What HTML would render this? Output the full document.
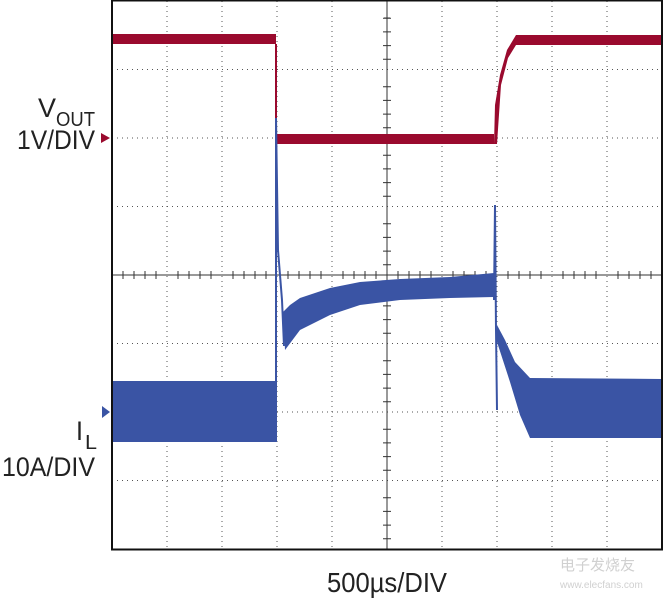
<!DOCTYPE html>
<html><head><meta charset="utf-8"><style>
html,body{margin:0;padding:0;background:#fff;width:664px;height:600px;overflow:hidden}
svg{display:block}
text{font-family:"Liberation Sans",sans-serif;fill:#222}
</style></head><body>
<svg width="664" height="600" viewBox="0 0 664 600">
<g stroke="#555" stroke-width="1" stroke-dasharray="1,4">
<line x1="167" y1="1" x2="167" y2="549"/><line x1="222" y1="1" x2="222" y2="549"/><line x1="277" y1="1" x2="277" y2="549"/><line x1="332" y1="1" x2="332" y2="549"/>
<line x1="442" y1="1" x2="442" y2="549"/><line x1="497" y1="1" x2="497" y2="549"/><line x1="552" y1="1" x2="552" y2="549"/><line x1="607" y1="1" x2="607" y2="549"/>
<line x1="112" y1="69.5" x2="662" y2="69.5"/><line x1="112" y1="138" x2="662" y2="138"/><line x1="112" y1="206.5" x2="662" y2="206.5"/>
<line x1="112" y1="343.5" x2="662" y2="343.5"/><line x1="112" y1="412" x2="662" y2="412"/><line x1="112" y1="480.5" x2="662" y2="480.5"/>
</g>
<g stroke="#333" stroke-width="1">
<line x1="387" y1="1" x2="387" y2="549"/><line x1="112" y1="275" x2="662" y2="275"/>
</g>
<g stroke="#333" stroke-width="1" stroke-dasharray="1,10.7">
<line x1="384" y1="18" x2="390" y2="18" stroke-dasharray="none"/>
</g>
<path d="M383 18.2h8M383 31.9h8M383 45.6h8M383 59.3h8M383 86.7h8M383 100.4h8M383 114.1h8M383 127.8h8M383 155.2h8M383 168.9h8M383 182.6h8M383 196.3h8M383 223.7h8M383 237.4h8M383 251.1h8M383 264.8h8M383 292.2h8M383 305.9h8M383 319.6h8M383 333.3h8M383 360.7h8M383 374.4h8M383 388.1h8M383 401.8h8M383 429.2h8M383 442.9h8M383 456.6h8M383 470.3h8M383 497.7h8M383 511.4h8M383 525.1h8M383 538.8h8" stroke="#333"/>
<path d="M123 271v8M134 271v8M145 271v8M156 271v8M178 271v8M189 271v8M200 271v8M211 271v8M233 271v8M244 271v8M255 271v8M266 271v8M288 271v8M299 271v8M310 271v8M321 271v8M343 271v8M354 271v8M365 271v8M376 271v8M398 271v8M409 271v8M420 271v8M431 271v8M453 271v8M464 271v8M475 271v8M486 271v8M508 271v8M519 271v8M530 271v8M541 271v8M563 271v8M574 271v8M585 271v8M596 271v8M618 271v8M629 271v8M640 271v8M651 271v8" stroke="#333"/>
<!-- red trace -->
<g fill="#9a0a2e" stroke="none">
<rect x="113" y="34" width="163" height="10"/>
<rect x="277" y="134" width="217" height="10"/>
<polygon points="494,144 495,105 500,75 507,50 516,35 662,35 662,45 516,45 508,58 501,85 497,144"/>
</g>
<line x1="276" y1="44" x2="276" y2="140" stroke="#9a0a2e" stroke-width="2"/>
<!-- blue trace -->
<g fill="#3a54a4" stroke="none">
<rect x="113" y="381" width="163" height="61"/>
<polygon points="283,312 290,305 300,298 330,288 360,282 400,279 450,277 494,273 494,297 450,298 400,300 360,305 330,315 300,330 285,350"/>
<polygon points="497,325 505,340 515,362 530,378 662,379 662,438 530,438 520,415 510,382 497,342"/>
</g>
<polyline points="276,442 276,118 278,250 282,300 284,346" fill="none" stroke="#3a54a4" stroke-width="2"/>
<polyline points="494,300 495,205 496,330 497,410" fill="none" stroke="#3a54a4" stroke-width="2"/>
<!-- frame -->
<rect x="112" y="0.5" width="550" height="549" fill="none" stroke="#111" stroke-width="2"/>
<!-- markers -->
<polygon points="101,133 101,143 110,138" fill="#9a0a2e"/>
<polygon points="102,406 102,418 110,412" fill="#3a54a4"/>
<text x="38" y="117" font-size="27" textLength="18" lengthAdjust="spacingAndGlyphs">V</text>
<text x="56" y="126" font-size="20" textLength="39" lengthAdjust="spacingAndGlyphs">OUT</text>
<text x="17" y="149" font-size="27" textLength="78" lengthAdjust="spacingAndGlyphs">1V/DIV</text>
<text x="76" y="440" font-size="27" textLength="7" lengthAdjust="spacingAndGlyphs">I</text>
<text x="85" y="449" font-size="20" textLength="12" lengthAdjust="spacingAndGlyphs">L</text>
<text x="2" y="476" font-size="27" textLength="93" lengthAdjust="spacingAndGlyphs">10A/DIV</text>
<text x="327" y="592" font-size="28" textLength="120" lengthAdjust="spacingAndGlyphs">500µs/DIV</text>
<text x="560" y="570" font-size="15" style="fill:#d0d0d0">电子发烧友</text>
<text x="560" y="588" font-size="10" style="fill:#d0d0d0">www.elecfans.com</text>
</svg>
</body></html>
